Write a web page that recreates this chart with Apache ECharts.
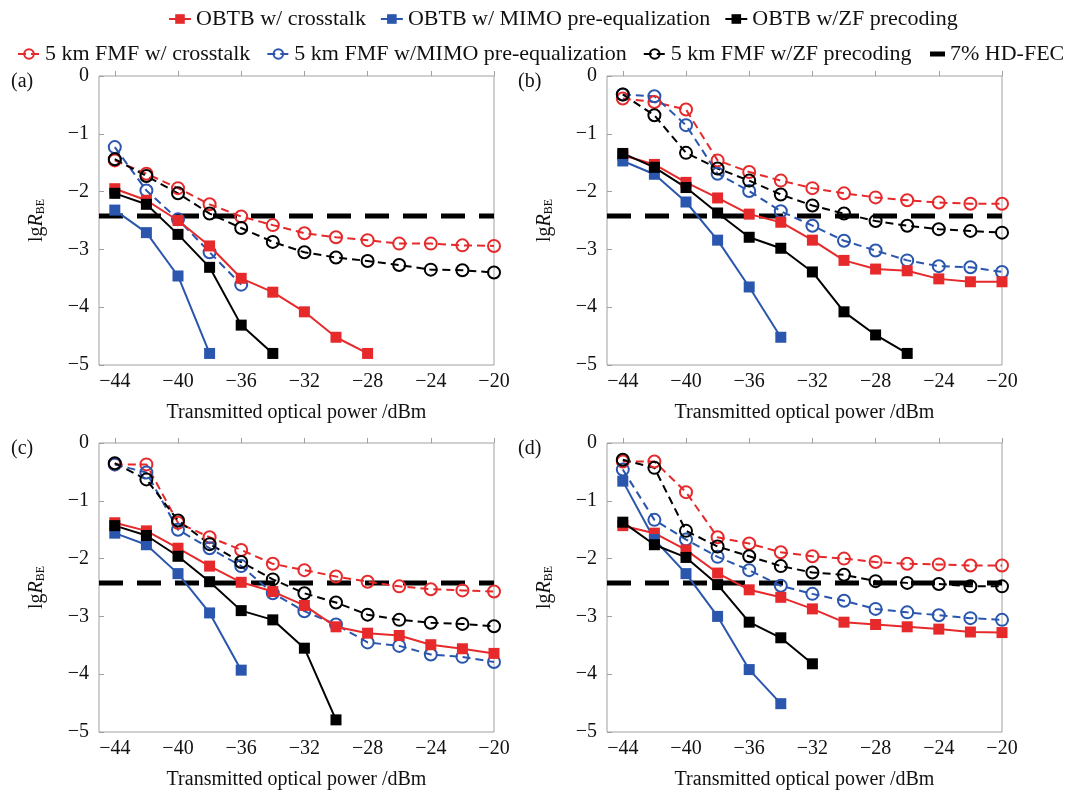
<!DOCTYPE html>
<html>
<head>
<meta charset="utf-8">
<script src="https://cdn.jsdelivr.net/npm/echarts@6/dist/echarts.min.js"></script>
<style>
html,body{margin:0;padding:0;background:#fff;}
#chart{width:1077px;height:792px;}
</style>
</head>
<body>
<div id="chart"></div>
<script>
// ---------- data ----------
const xVals = [-44,-42,-40,-38,-36,-34,-32,-30,-28,-26,-24,-22,-20];
const xTicks = [-44,-40,-36,-32,-28,-24,-20];
const yTicks = [0,-1,-2,-3,-4,-5];
const fecLevel = -2.42;
const panelLabels = ['(a)','(b)','(c)','(d)'];
const seriesNames = ['OBTB w/ crosstalk','OBTB w/ MIMO pre-equalization','OBTB w/ZF precoding',
  '5 km FMF w/ crosstalk','5 km FMF w/MIMO pre-equalization','5 km FMF w/ZF precoding','7% HD-FEC'];

// panel (a)
const a_obtbXT   = [-1.95,-2.15,-2.50,-2.94,-3.50,-3.74,-4.08,-4.52,-4.80];
const a_obtbMIMO = [-2.32,-2.71,-3.46,-4.80];
const a_obtbZF   = [-2.03,-2.22,-2.74,-3.31,-4.31,-4.80];
const a_fmfXT    = [-1.46,-1.69,-1.94,-2.22,-2.43,-2.58,-2.72,-2.79,-2.84,-2.90,-2.90,-2.93,-2.94];
const a_fmfMIMO  = [-1.23,-1.98,-2.48,-3.05,-3.61];
const a_fmfZF    = [-1.44,-1.73,-2.03,-2.38,-2.63,-2.87,-3.05,-3.14,-3.20,-3.27,-3.35,-3.36,-3.40];
// panel (b)
const b_obtbXT   = [-1.37,-1.53,-1.84,-2.11,-2.39,-2.53,-2.84,-3.19,-3.34,-3.37,-3.51,-3.56,-3.56];
const b_obtbMIMO = [-1.47,-1.70,-2.18,-2.84,-3.65,-4.52];
const b_obtbZF   = [-1.34,-1.58,-1.93,-2.37,-2.79,-2.98,-3.39,-4.08,-4.48,-4.80];
const b_fmfXT    = [-0.39,-0.45,-0.58,-1.46,-1.66,-1.81,-1.94,-2.03,-2.10,-2.15,-2.19,-2.21,-2.21];
const b_fmfMIMO  = [-0.32,-0.35,-0.85,-1.69,-1.99,-2.34,-2.59,-2.85,-3.02,-3.19,-3.29,-3.31,-3.39];
const b_fmfZF    = [-0.32,-0.68,-1.33,-1.60,-1.81,-2.05,-2.24,-2.38,-2.51,-2.59,-2.65,-2.68,-2.71];
// panel (c)
const c_obtbXT   = [-1.38,-1.52,-1.82,-2.13,-2.41,-2.57,-2.81,-3.18,-3.29,-3.33,-3.49,-3.56,-3.64];
const c_obtbMIMO = [-1.56,-1.76,-2.26,-2.94,-3.93];
const c_obtbZF   = [-1.43,-1.60,-1.96,-2.40,-2.90,-3.06,-3.55,-4.79];
const c_fmfXT    = [-0.37,-0.37,-1.38,-1.63,-1.85,-2.09,-2.20,-2.31,-2.40,-2.48,-2.53,-2.55,-2.57];
const c_fmfMIMO  = [-0.37,-0.51,-1.50,-1.82,-2.13,-2.60,-2.91,-3.14,-3.45,-3.51,-3.66,-3.70,-3.79];
const c_fmfZF    = [-0.35,-0.63,-1.34,-1.75,-2.06,-2.36,-2.60,-2.76,-2.97,-3.06,-3.11,-3.13,-3.17];
// panel (d)
const d_obtbXT   = [-1.43,-1.56,-1.85,-2.25,-2.54,-2.67,-2.87,-3.10,-3.14,-3.18,-3.22,-3.27,-3.28];
const d_obtbMIMO = [-0.66,-1.67,-2.26,-3.00,-3.92,-4.51];
const d_obtbZF   = [-1.37,-1.76,-1.98,-2.45,-3.10,-3.37,-3.82];
const d_fmfXT    = [-0.32,-0.32,-0.85,-1.63,-1.74,-1.89,-1.96,-2.00,-2.06,-2.09,-2.10,-2.12,-2.12];
const d_fmfMIMO  = [-0.46,-1.33,-1.67,-1.97,-2.20,-2.47,-2.61,-2.73,-2.87,-2.93,-2.98,-3.03,-3.06];
const d_fmfZF    = [-0.29,-0.43,-1.52,-1.79,-1.96,-2.13,-2.24,-2.28,-2.39,-2.42,-2.44,-2.48,-2.48];

const panels = [
  [a_obtbXT,a_obtbMIMO,a_obtbZF,a_fmfXT,a_fmfMIMO,a_fmfZF],
  [b_obtbXT,b_obtbMIMO,b_obtbZF,b_fmfXT,b_fmfMIMO,b_fmfZF],
  [c_obtbXT,c_obtbMIMO,c_obtbZF,c_fmfXT,c_fmfMIMO,c_fmfZF],
  [d_obtbXT,d_obtbMIMO,d_obtbZF,d_fmfXT,d_fmfMIMO,d_fmfZF]
];

// ---------- styles ----------
const RED = '#e6292b', BLUE = '#2a56ad', BLACK = '#000000';
const colors = [RED, BLUE, BLACK, RED, BLUE, BLACK];
const FONT = '"Liberation Serif", "DejaVu Serif", serif';
const fmtMinus = v => (v < 0 ? '\u2212' + Math.abs(v) : String(v));

const gridPos = [
  {left: 99,  top: 76,  width: 395, height: 289},
  {left: 607, top: 76,  width: 395, height: 289},
  {left: 99,  top: 443, width: 395, height: 289},
  {left: 607, top: 443, width: 395, height: 289}
];

const grids = gridPos.map(g => Object.assign({show: true, borderColor: '#a0a0a0', borderWidth: 1, containLabel: false}, g));

const xAxes = gridPos.map((g, i) => ({
  type: 'value', gridIndex: i, min: -45, max: -20,
  name: 'Transmitted optical power /dBm', nameLocation: 'middle', nameGap: 38,
  nameTextStyle: {fontFamily: FONT, fontSize: 20, color: '#111'},
  axisLine: {show: false},
  splitLine: {show: false},
  axisTick: {show: true, inside: true, length: 5, lineStyle: {color: '#a0a0a0'}, customValues: xTicks},
  axisLabel: {fontFamily: FONT, fontSize: 20, color: '#111', margin: 7, customValues: xTicks, formatter: fmtMinus}
}));

const yAxes = gridPos.map((g, i) => ({
  type: 'value', gridIndex: i, min: -5, max: 0, interval: 1,
  name: '{a|lg}{b|R}{c|BE}', nameLocation: 'middle', nameGap: 52, nameRotate: 90,
  nameTextStyle: {
    rich: {
      a: {fontFamily: FONT, fontSize: 20, color: '#111'},
      b: {fontFamily: FONT, fontSize: 20, fontStyle: 'italic', color: '#111'},
      c: {fontFamily: FONT, fontSize: 12, color: '#111', verticalAlign: 'bottom', padding: [6, 0, 0, 0]}
    }
  },
  axisLine: {show: false},
  splitLine: {show: false},
  axisTick: {show: true, inside: true, length: 5, lineStyle: {color: '#a0a0a0'}},
  axisLabel: {fontFamily: FONT, fontSize: 20, color: '#111', margin: 10,
    formatter: v => yTicks.indexOf(v) >= 0 ? fmtMinus(v) : ''}
}));

const series = [];
panels.forEach((arrs, p) => {
  // FEC threshold line
  series.push({
    name: seriesNames[6], type: 'line', xAxisIndex: p, yAxisIndex: p,
    data: [[-45, fecLevel], [-20, fecLevel]],
    symbol: 'none', silent: true, z: 1,
    lineStyle: {color: BLACK, width: 5, type: [24, 14]},
    itemStyle: {color: BLACK}
  });
  // FMF (dashed, open circles)
  for (let k = 3; k < 6; k++) {
    series.push({
      name: seriesNames[k], type: 'line', xAxisIndex: p, yAxisIndex: p,
      data: arrs[k].map((v, i) => [xVals[i], v]),
      symbol: 'circle', symbolSize: 12, z: 2,
      lineStyle: {color: colors[k], width: 2, type: [8, 5]},
      itemStyle: {color: 'rgba(255,255,255,0)', borderColor: colors[k], borderWidth: 2}
    });
  }
  // OBTB (solid, filled squares)
  for (let k = 0; k < 3; k++) {
    series.push({
      name: seriesNames[k], type: 'line', xAxisIndex: p, yAxisIndex: p,
      data: arrs[k].map((v, i) => [xVals[i], v]),
      symbol: 'rect', symbolSize: 11, z: 3,
      lineStyle: {color: colors[k], width: 2},
      itemStyle: {color: colors[k]}
    });
  }
});

const titles = panelLabels.map((t, i) => ({
  text: t,
  left: i % 2 === 0 ? 6 : 513,
  top: i < 2 ? 67 : 434,
  textStyle: {fontFamily: FONT, fontSize: 20, fontWeight: 'normal', color: '#111'}
}));

const legendText = {fontFamily: FONT, fontSize: 22, color: '#111'};
const option = {
  backgroundColor: '#fff',
  animation: false,
  title: titles,
  legend: [
    {data: seriesNames.slice(0, 3), left: 163, top: 3, itemGap: 14, itemWidth: 22, itemHeight: 12,
     textStyle: legendText, selectedMode: false},
    {data: seriesNames.slice(3, 6), left: 12, top: 38, itemGap: 16, itemWidth: 22, itemHeight: 12,
     textStyle: legendText, selectedMode: false},
    {data: seriesNames.slice(6), left: 925, top: 38, itemWidth: 15, itemHeight: 5, icon: 'rect',
     textStyle: legendText, selectedMode: false}
  ],
  grid: grids,
  xAxis: xAxes,
  yAxis: yAxes,
  series: series
};

const chart = echarts.init(document.getElementById('chart'), null, {renderer: 'canvas'});
chart.setOption(option);
</script>
</body>
</html>
